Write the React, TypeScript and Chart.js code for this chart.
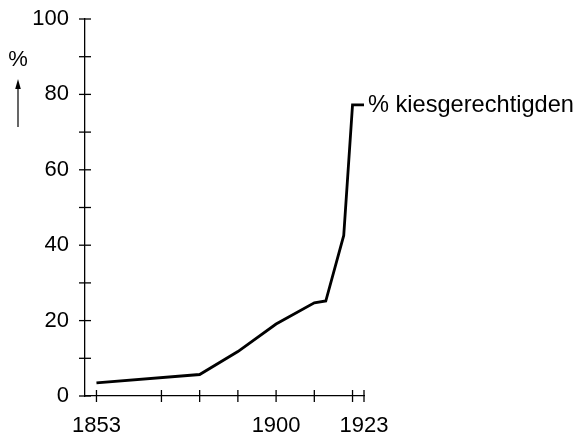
import React, { useEffect, useRef } from "react";
import { Chart, registerables } from "chart.js";

Chart.register(...registerables);

const years = [1853, 1880, 1890, 1900, 1910, 1913, 1917.7, 1920, 1923];
const values = [3.5, 5.7, 11.8, 19.1, 24.7, 25.2, 42.6, 77.2, 77.2];
const seriesLabel = "% kiesgerechtigden";
const xTickValues = [1853, 1870, 1880, 1890, 1900, 1910, 1920, 1923];
const xLabelled = [1853, 1900, 1923];
const yLabelled = [0, 20, 40, 60, 80, 100];
const yUnit = "%";

const FONT = '"Liberation Sans", Arial, sans-serif';

const overlay = {
  id: "overlay",
  afterDraw(chart: any) {
    const ctx = chart.ctx;
    const { left, bottom } = chart.chartArea;
    const xs = chart.scales.x;
    const ys = chart.scales.y;
    ctx.save();
    ctx.strokeStyle = "#000";
    ctx.fillStyle = "#000";
    ctx.lineWidth = 1.3;
    xs.ticks.forEach((t: any) => {
      const px = xs.getPixelForValue(t.value);
      ctx.beginPath();
      ctx.moveTo(px, bottom - 6);
      ctx.lineTo(px, bottom + 6);
      ctx.stroke();
    });
    ys.ticks.forEach((t: any) => {
      const py = ys.getPixelForValue(t.value);
      ctx.beginPath();
      ctx.moveTo(left - 6, py);
      ctx.lineTo(left + 6, py);
      ctx.stroke();
    });
    const meta = chart.getDatasetMeta(0);
    const last = meta.data[meta.data.length - 1];
    ctx.font = "23.6px " + FONT;
    ctx.textBaseline = "middle";
    ctx.textAlign = "left";
    ctx.fillText(seriesLabel, last.x + 4, last.y + 1);
    // y unit and arrow
    ctx.font = "22px " + FONT;
    ctx.textAlign = "center";
    ctx.fillText(yUnit, 18, 60);
    ctx.lineWidth = 1.2;
    ctx.beginPath();
    ctx.moveTo(18, 127);
    ctx.lineTo(18, 86);
    ctx.stroke();
    ctx.beginPath();
    ctx.moveTo(18, 79);
    ctx.lineTo(15.2, 89);
    ctx.lineTo(20.8, 89);
    ctx.closePath();
    ctx.fill();
    ctx.restore();
  },
};

export default function App() {
  const ref = useRef<HTMLCanvasElement>(null);
  useEffect(() => {
    const chart = new Chart(ref.current as HTMLCanvasElement, {
      type: "line",
      data: {
        datasets: [
          {
            label: seriesLabel,
            data: years.map((x, i) => ({ x, y: values[i] })),
            borderColor: "#000",
            borderWidth: 2.8,
            pointRadius: 0,
            tension: 0,
            fill: false,
          },
        ],
      },
      options: {
        responsive: false,
        animation: false,
        layout: { padding: { left: 0, top: 19, right: 215, bottom: 0 } },
        plugins: { legend: { display: false }, tooltip: { enabled: false } },
        scales: {
          x: {
            type: "linear",
            min: 1850,
            max: 1923,
            afterBuildTicks: (scale: any) => {
              scale.ticks = xTickValues.map((v) => ({ value: v }));
            },
            afterFit: (scale: any) => {
              scale.height = 42;
            },
            grid: { display: true, drawOnChartArea: false, drawTicks: false },
            border: { display: true, color: "#000", width: 1.3 },
            ticks: {
              autoSkip: false,
              maxRotation: 0,
              padding: 17,
              color: "#000",
              font: { family: FONT, size: 22 },
              callback: (v: any) => (xLabelled.includes(Number(v)) ? String(v) : ""),
            },
          },
          y: {
            type: "linear",
            min: 0,
            max: 100,
            afterFit: (scale: any) => {
              scale.width = 85;
            },
            grid: {
              display: true,
              drawOnChartArea: false,
              drawTicks: true,
              tickLength: 16,
              tickColor: "rgba(0,0,0,0)",
            },
            border: { display: true, color: "#000", width: 1.3 },
            ticks: {
              stepSize: 10,
              autoSkip: false,
              padding: 0,
              color: "#000",
              font: { family: FONT, size: 22 },
              callback: (v: any) => (yLabelled.includes(Number(v)) ? String(v) : ""),
            },
          },
        },
      },
      plugins: [overlay],
    });
    return () => chart.destroy();
  }, []);
  return (
    <div style={{ position: "fixed", left: 0, top: 0, width: 579, height: 438, background: "#fff" }}>
      <canvas ref={ref} width={579} height={438} />
    </div>
  );
}
